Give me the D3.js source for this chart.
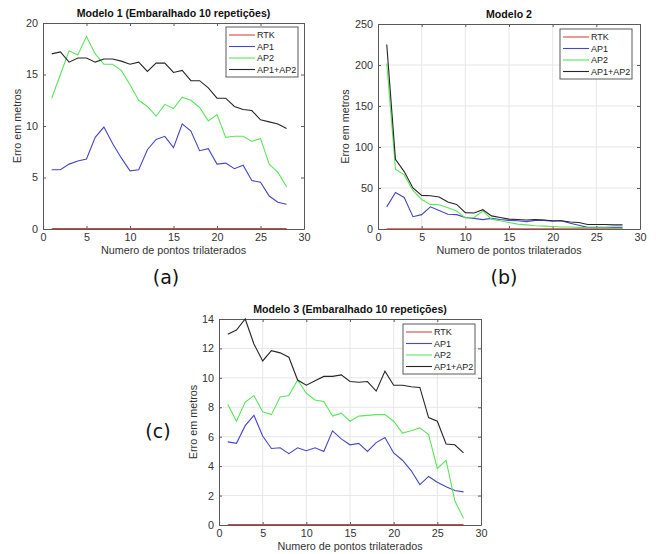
<!DOCTYPE html>
<html>
<head>
<meta charset="utf-8">
<script src="https://cdn.jsdelivr.net/npm/d3@7"></script>
<style>
  body { margin: 0; background: #fff; }
  svg { font-family: "Liberation Sans", Arial, sans-serif; }
</style>
</head>
<body>
<svg id="chart" width="656" height="554"></svg>
<script>
var xs = [1,2,3,4,5,6,7,8,9,10,11,12,13,14,15,16,17,18,19,20,21,22,23,24,25,26,27,28];
var seriesNames = ["RTK", "AP1", "AP2", "AP1+AP2"];
var colors = ["#d64545", "#4646c8", "#5ae65a", "#262626"];

// Modelo 1
var m1Rtk = [0.05,0.05,0.05,0.05,0.05,0.05,0.05,0.05,0.05,0.05,0.05,0.05,0.05,0.05,0.05,0.05,0.05,0.05,0.05,0.05,0.05,0.05,0.05,0.05,0.05,0.05,0.05,0.05];
var m1Ap1 = [5.75,5.75,6.3,6.6,6.8,8.9,9.9,8.3,6.9,5.65,5.75,7.7,8.7,9.0,7.9,10.2,9.5,7.6,7.8,6.3,6.4,5.85,6.2,4.7,4.55,3.2,2.6,2.4];
var m1Ap2 = [12.7,15.0,17.3,16.9,18.7,17.0,16.0,16.0,15.4,14.0,12.5,11.9,10.95,12.1,11.7,12.8,12.5,11.8,10.5,11.1,8.9,9.0,9.0,8.5,8.8,6.3,5.5,4.1];
var m1Both = [17.0,17.2,16.2,16.6,16.6,16.2,16.5,16.5,16.3,16.0,16.2,15.3,16.1,16.1,15.2,15.4,14.4,14.4,13.7,12.7,12.7,11.9,11.6,11.5,10.6,10.4,10.2,9.75];

// Modelo 2
var m2Rtk = [0.3,0.3,0.3,0.3,0.3,0.3,0.3,0.3,0.3,0.3,0.3,0.3,0.3,0.3,0.3,0.3,0.3,0.3,0.3,0.3,0.3,0.3,0.3,0.3,0.3,0.3,0.3,0.3];
var m2Ap1 = [27,44.5,38.5,15,17.5,27,22.5,18,17.5,14,13,11.5,13,11.5,10.5,10,9,10.5,10.5,9.5,10,7,4.5,2,2,2,2,2];
var m2Ap2 = [202,73,66,47,36,30,29.5,26,22,13.5,14,22,12,10,8,6,5,4,3.5,3,2.5,2.5,2,1.5,1.5,1.5,1,1];
var m2Both = [225,85,70,50,41,40.5,39,33,30,20,19.5,23.5,16,14,12,11.5,11,11.5,11,10,10,8.5,8,5.5,5.5,5.5,5,5];

// Modelo 3
var m3Rtk = [0.03,0.03,0.03,0.03,0.03,0.03,0.03,0.03,0.03,0.03,0.03,0.03,0.03,0.03,0.03,0.03,0.03,0.03,0.03,0.03,0.03,0.03,0.03,0.03,0.03,0.03,0.03,0.03];
var m3Ap1 = [5.65,5.55,6.75,7.45,6.05,5.2,5.25,4.85,5.25,5.05,5.25,5.0,6.4,5.85,5.45,5.55,5.0,5.6,5.95,4.9,4.4,3.7,2.75,3.3,2.9,2.6,2.35,2.25];
var m3Ap2 = [8.2,7.05,8.35,8.8,7.7,7.5,8.7,8.8,9.85,8.95,8.5,8.4,7.4,7.6,7.05,7.4,7.45,7.5,7.5,7.05,6.25,6.4,6.6,6.15,3.85,4.4,1.65,0.45];
var m3Both = [12.96,13.25,14.0,12.3,11.15,11.85,11.7,11.4,9.85,9.5,9.8,10.1,10.1,10.2,9.75,9.7,9.75,9.1,10.45,9.5,9.5,9.4,9.35,7.3,7.05,5.5,5.45,4.9];

var xTicks = [0,5,10,15,20,25,30];
var svg = d3.select("#chart");

function drawPanel(p) {
  var g = svg.append("g").attr("transform", "translate(" + p.left + "," + p.top + ")");
  var w = p.width, h = p.height;
  var x = d3.scaleLinear().domain([0, 30]).range([0, w]);
  var y = d3.scaleLinear().domain([0, p.ymax]).range([h, 0]);

  g.append("rect").attr("width", w).attr("height", h).attr("fill", "#fff");

  if (p.grid) {
    g.append("g").selectAll("line").data(xTicks.slice(1, -1)).enter().append("line")
      .attr("x1", d => x(d)).attr("x2", d => x(d)).attr("y1", 0).attr("y2", h)
      .attr("stroke", "#e6e6e6").attr("stroke-width", 1);
    g.append("g").selectAll("line").data(p.yTicks.slice(1, -1)).enter().append("line")
      .attr("y1", d => y(d)).attr("y2", d => y(d)).attr("x1", 0).attr("x2", w)
      .attr("stroke", "#e6e6e6").attr("stroke-width", 1);
  }

  // axes, ticks pointing inward like matlab
  var xAxis = d3.axisBottom(x).tickValues(xTicks).tickSizeInner(-3).tickSizeOuter(0).tickPadding(4);
  var yAxis = d3.axisLeft(y).tickValues(p.yTicks).tickSizeInner(-3).tickSizeOuter(0).tickPadding(5);
  var xTop = d3.axisTop(x).tickValues(xTicks).tickSizeInner(-3).tickSizeOuter(0).tickFormat("");
  var yRight = d3.axisRight(y).tickValues(p.yTicks).tickSizeInner(-3).tickSizeOuter(0).tickFormat("");

  var ax = [
    g.append("g").attr("transform", "translate(0," + h + ")").call(xAxis),
    g.append("g").call(yAxis),
    g.append("g").call(xTop),
    g.append("g").attr("transform", "translate(" + w + ",0)").call(yRight)
  ];
  ax.forEach(function(a) {
    a.select(".domain").attr("stroke", "#5a5a5a");
    a.selectAll(".tick line").attr("stroke", "#5a5a5a");
    a.selectAll("text").attr("fill", "#333").style("font-size", "10.8px")
      .style("font-family", "'Liberation Sans', Arial, sans-serif");
  });

  var line = d3.line().x((d, i) => x(xs[i])).y(d => y(d));
  p.series.forEach(function(s, i) {
    g.append("path").datum(s).attr("d", line)
      .attr("fill", "none").attr("stroke", colors[i]).attr("stroke-width", 1.1);
  });

  g.append("text").attr("x", w / 2).attr("y", -6).attr("text-anchor", "middle")
    .attr("font-weight", "bold").attr("font-size", 10.6).attr("fill", "#111").text(p.title);
  g.append("text").attr("x", w / 2).attr("y", h + 25).attr("text-anchor", "middle")
    .attr("font-size", 10.8).attr("fill", "#333").text("Numero de pontos trilaterados");
  g.append("text").attr("transform", "translate(" + p.ylabelX + "," + (h / 2) + ") rotate(-90)")
    .attr("text-anchor", "middle").attr("font-size", 10.8).attr("fill", "#333").text("Erro em metros");

  // legend
  var lg = g.append("g").attr("transform", "translate(" + p.legend[0] + "," + p.legend[1] + ")");
  lg.append("rect").attr("width", 72).attr("height", 50).attr("fill", "#fff")
    .attr("stroke", "#5a5a5a").attr("stroke-width", 1);
  seriesNames.forEach(function(n, i) {
    var yy = 8 + i * 11.5;
    lg.append("line").attr("x1", 3).attr("x2", 29).attr("y1", yy).attr("y2", yy)
      .attr("stroke", colors[i]).attr("stroke-width", 1.1);
    lg.append("text").attr("x", 31).attr("y", yy + 3.3).attr("font-size", 9)
      .attr("fill", "#222").text(n);
  });

  svg.append("text").attr("x", p.tag[0]).attr("y", p.tag[1]).attr("text-anchor", "middle")
    .attr("dominant-baseline", "middle")
    .style("font-family", "'DejaVu Sans', sans-serif").attr("font-size", 19).attr("fill", "#111")
    .text(p.tagText);
}

drawPanel({left: 43, top: 23, width: 261, height: 206, ymax: 20, yTicks: [0,5,10,15,20],
  grid: false, title: "Modelo 1 (Embaralhado 10 repetições)", ylabelX: -22,
  series: [m1Rtk, m1Ap1, m1Ap2, m1Both], legend: [183, 4], tag: [166, 278], tagText: "(a)"});

drawPanel({left: 378, top: 24, width: 262, height: 205, ymax: 250, yTicks: [0,50,100,150,200,250],
  grid: true, title: "Modelo 2", ylabelX: -29,
  series: [m2Rtk, m2Ap1, m2Ap2, m2Both], legend: [182, 5], tag: [504, 278], tagText: "(b)"});

drawPanel({left: 219, top: 319, width: 262, height: 206, ymax: 14, yTicks: [0,2,4,6,8,10,12,14],
  grid: true, title: "Modelo 3 (Embaralhado 10 repetições)", ylabelX: -22,
  series: [m3Rtk, m3Ap1, m3Ap2, m3Both], legend: [184, 5], tag: [158, 432], tagText: "(c)"});
</script>
</body>
</html>
